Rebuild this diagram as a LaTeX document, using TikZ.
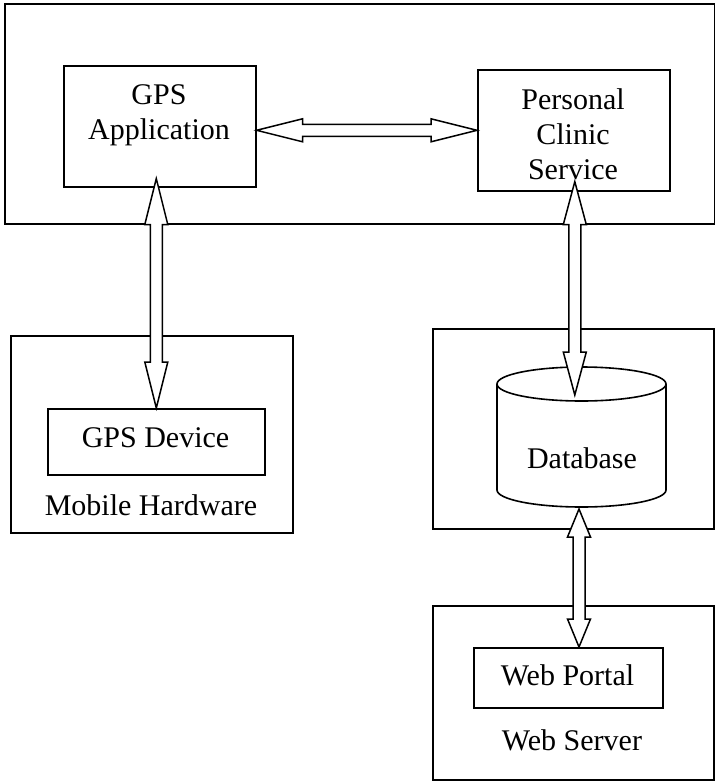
\documentclass[tikz,border=0pt]{standalone}
\usepackage{fontspec}
\setmainfont{Liberation Serif}
\usepackage{tikz}
\usetikzlibrary{calc}

%% hollow double-headed arrow: from, to, head length
\newcommand{\dblarrow}[3]{%
  \coordinate (ha) at ($(#1)!#3pt!(#2)$);
  \coordinate (hb) at ($(#2)!#3pt!(#1)$);
  \draw[arrowbody] (#1) -- ($(ha)!11.5pt!90:(#2)$) -- ($(ha)!6pt!90:(#2)$)
    -- ($(hb)!6pt!-90:(#1)$) -- ($(hb)!11.5pt!-90:(#1)$) -- (#2)
    -- ($(hb)!11.5pt!90:(#1)$) -- ($(hb)!6pt!90:(#1)$)
    -- ($(ha)!6pt!-90:(#2)$) -- ($(ha)!11.5pt!-90:(#2)$) -- cycle;
}

\begin{document}
\begin{tikzpicture}[x=1pt,y=-1pt,
  box/.style={draw, line width=1.6pt, inner sep=0pt, anchor=north west},
  lbl/.style={font=\fontsize{30}{35}\selectfont, align=center, inner sep=0pt},
  arrowbody/.style={draw, fill=white, line width=1.5pt, line join=miter}]

\useasboundingbox (0,0) rectangle (715,782);

%% outer boxes
\node[box, minimum width=710pt, minimum height=220pt] (phone) at (4,3) {};
\node[box, minimum width=282pt, minimum height=197pt] (mobile) at (10,335) {};
\node[box, minimum width=281pt, minimum height=200pt] (dbhost) at (432,328) {};
\node[box, minimum width=281pt, minimum height=174pt] (web) at (432,605) {};

%% inner boxes
\node[box, minimum width=192pt, minimum height=121pt] (app) at (63,65) {};
\node[box, minimum width=192pt, minimum height=121pt] (clinic) at (477,69) {};
\node[box, minimum width=217pt, minimum height=66pt] (dev) at (47,408) {};
\node[box, minimum width=189pt, minimum height=60pt] (portal) at (473,647) {};

%% database cylinder
\draw[line width=1.6pt] (497,384) -- (497,490)
  arc[start angle=180, end angle=360, x radius=84.5pt, y radius=17pt] -- (666,384);
\draw[line width=1.6pt] (581.5,384) ellipse (84.5pt and 17pt);
\coordinate (dbtop) at (581.5,401);
\coordinate (dbbot) at (581.5,507);

%% texts
\node[lbl] (appt) at (159,115) {GPS\\Application};
\node[lbl] (clinict) at (573,134) {Personal\\Clinic\\Service};
\node[lbl, anchor=base] (devt) at (155.5,447) {GPS Device};
\node[lbl, anchor=base] (mobilet) at (151,515) {Mobile Hardware};
\node[lbl, anchor=base] (dbt) at (582,468) {Database};
\node[lbl, anchor=base] (portalt) at (567.5,685) {Web Portal};
\node[lbl, anchor=base] (webt) at (572,750) {Web Server};

%% arrow ends
\coordinate (appout) at (app.east |- clinic.west);
\coordinate (appin) at ($(dev.north |- app.south)+(0,-9)$);
\coordinate (clinin) at ($(clinic.south)+(1,-10)$);
\coordinate (dbin) at ($(clinin |- dbtop)+(0,-6)$);
\coordinate (dbout) at ($(dbbot)+(-2.5,2)$);
\coordinate (portalin) at (portal.north -| dbout);

\foreach \s/\e/\h in {appout/clinic.west/46, appin/dev.north/46,
                      clinin/dbin/43, dbout/portalin/28}
{
  \dblarrow{\s}{\e}{\h}
}

\end{tikzpicture}
\end{document}
